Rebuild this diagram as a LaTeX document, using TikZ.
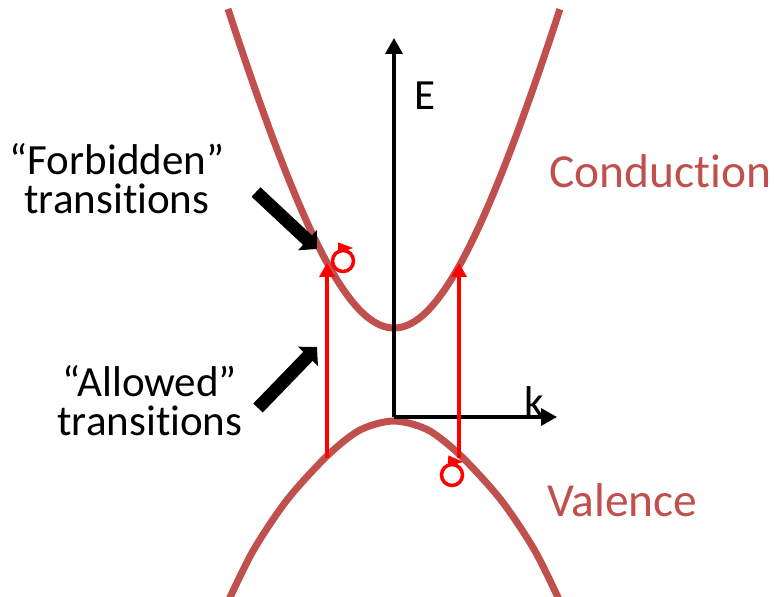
\documentclass[tikz,border=0pt]{standalone}
\usepackage{fontspec}
\setmainfont{Carlito}[Ligatures=NoCommon]
\usetikzlibrary{arrows.meta}

\definecolor{bandred}{RGB}{192,80,77}

\begin{document}
\begin{tikzpicture}[x=0.2mm,y=-0.2mm,
    band/.style={bandred,line width=4pt},
    axis/.style={line width=1.9pt,-{Triangle[length=3.2mm,width=3.4mm]}},
    trans/.style={red,line width=2.3pt,-{Triangle[length=2.8mm,width=3mm]}},
    spin/.style={red,line width=2pt},
    spinhead/.style={red,line width=0.5pt,-{Triangle[length=3mm,width=2.2mm]}},
    pointer/.style={line width=7.4pt,-{Triangle[length=2.6mm,width=5.4mm]}},
    lbl/.style={font=\fontsize{24.5}{22.5}\selectfont,inner sep=0pt},
    bandlbl/.style={inner sep=0pt,font=\fontsize{27}{30}\selectfont,text=bandred}]
  \useasboundingbox (0,0) rectangle (774,597);

  % bands
  \draw[band,domain=-1.66:1.66,samples=90,variable=\u]
       plot ({394+100*\u},{328-100*(sqrt(21.25+14.37*\u*\u)-4.61)});
  \draw[band] plot[smooth] coordinates {(226,606) (253,551) (287,500) (327,456)
       (360,430) (394,421) (428,430) (461,456) (501,500) (535,551) (562,606)};

  % axes
  \coordinate (O) at (394,417);
  \coordinate (etop) at (394,38);
  \coordinate (kend) at (557,417);
  \draw[axis] (O) -- (etop);
  \draw[axis] (O) -- (kend);
  \node[lbl,anchor=base west] (elabel) at (414,110) {E};
  \node[lbl,anchor=base west] (klabel) at (524,416) {k};

  % transitions
  \coordinate (vL) at (327,458);
  \coordinate (cL) at (327,263);
  \coordinate (vR) at (459,458);
  \coordinate (cR) at (459,263);
  \draw[trans] (vL) -- (cL);
  \draw[trans] (vR) -- (cR);

  % spin flips
  \coordinate (spinC) at (343,261);
  \coordinate (spinV) at (452,475);
  \draw[spin] (spinC) circle[radius=2.1mm];
  \draw[spinhead] (spinC) ++(-5,-13) -- ++(15,0);
  \draw[spin] (spinV) circle[radius=2.1mm];
  \draw[spinhead] (spinV) ++(-4,-14) -- ++(15,1);

  % labels
  \node[bandlbl,anchor=base west] (cond) at (549,188) {Conduction};
  \node[bandlbl,anchor=base west] (val) at (547,517) {Valence};
  \node[lbl,align=center,anchor=base] (forbid) at (117,214) {“Forbidden”\\transitions};
  \node[lbl,align=center,anchor=base] (allow) at (150,436) {“Allowed”\\transitions};

  \coordinate (fTail) at (256,192);
  \coordinate (fTip) at (317,249);
  \coordinate (aTail) at (258,408);
  \coordinate (aTip) at (317,347);
  \draw[pointer] (fTail) -- (fTip);
  \draw[pointer] (aTail) -- (aTip);
\end{tikzpicture}
\end{document}
